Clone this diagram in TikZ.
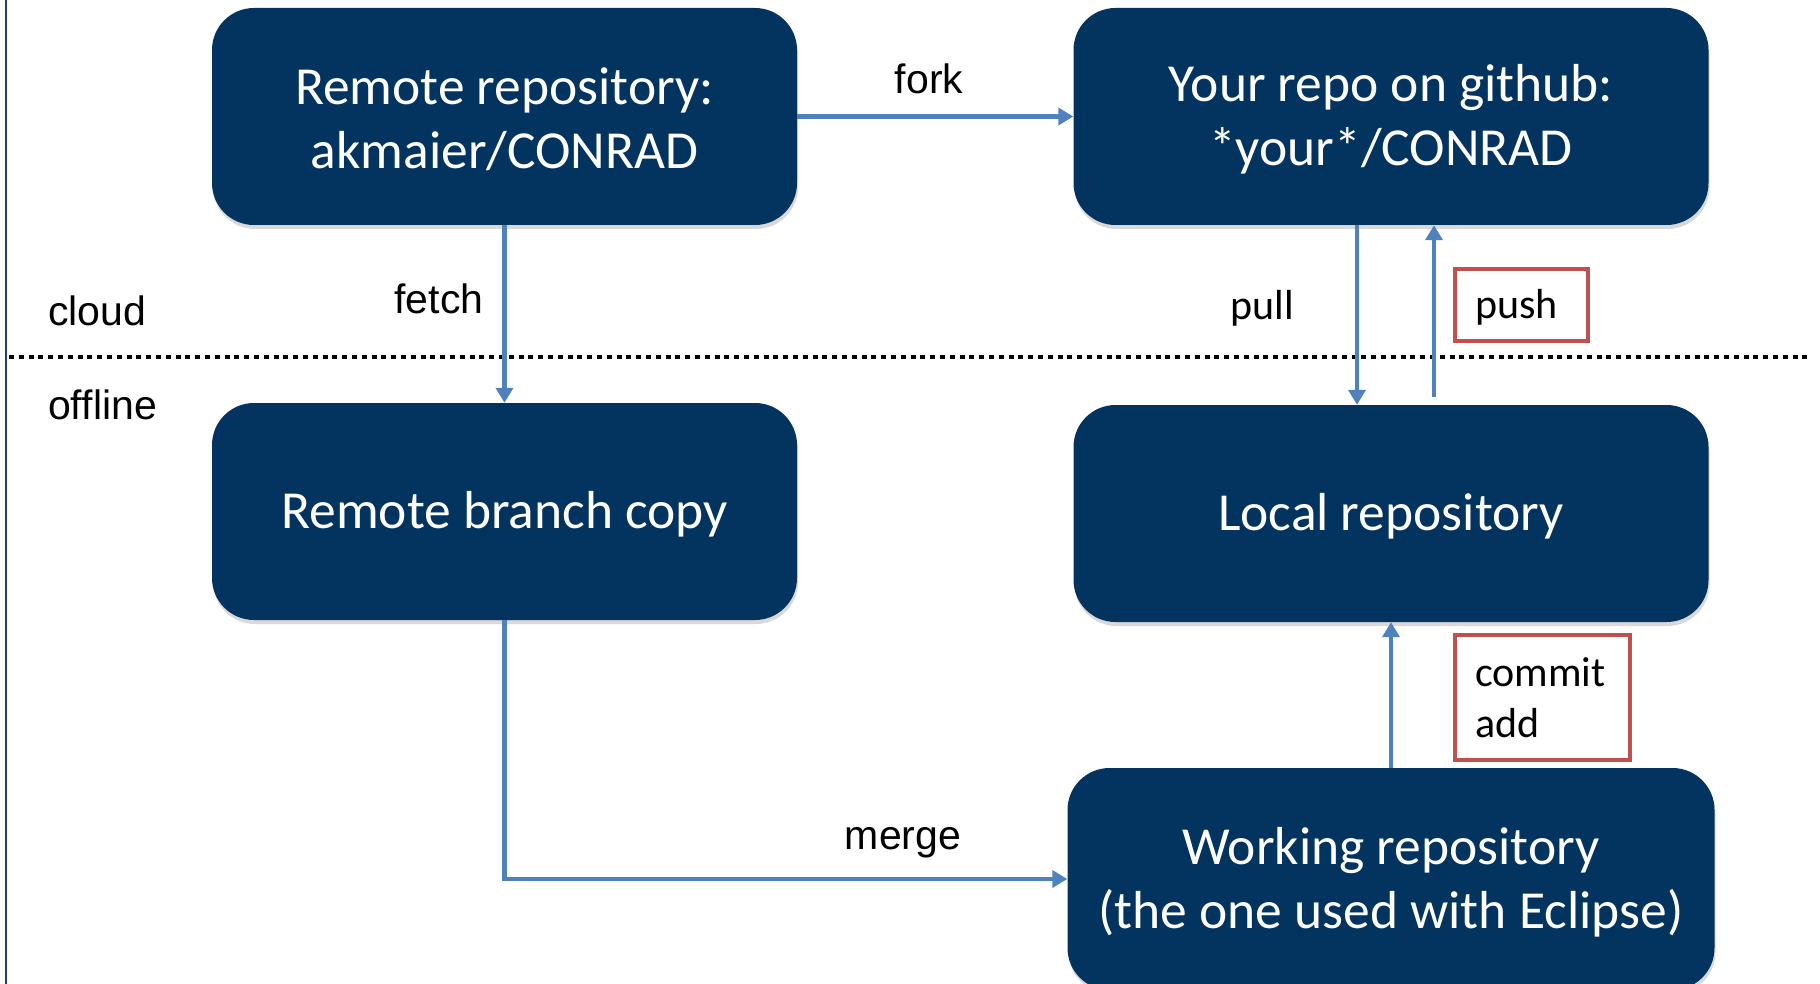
\documentclass[tikz,border=0pt]{standalone}
\usepackage{fontspec}
\setmainfont{Carlito}
\newfontfamily\arialfont{Liberation Sans}
\usetikzlibrary{arrows.meta,shadows}
\definecolor{navy}{HTML}{03335F}
\definecolor{arrowblue}{HTML}{4F81BD}
\definecolor{boxred}{HTML}{C0504D}
\definecolor{borderblue}{HTML}{1F3F6F}
\begin{document}
\begin{tikzpicture}[x=1pt,y=-1pt,
  repo/.style={draw=none, fill=navy, rounded corners=42pt, inner sep=0pt,
    drop shadow={shadow xshift=1pt, shadow yshift=-4pt, opacity=0.3}},
  repotext/.style={text=white, align=center, inner sep=0pt, font=\fontsize{53.5}{64}\selectfont},
  conn/.style={draw=arrowblue, line width=4.5pt, -{Triangle[width=17pt,length=15pt]}},
  lblA/.style={font=\arialfont\fontsize{41}{48}\selectfont, inner sep=0pt},
  lblC/.style={font=\fontsize{42}{51}\selectfont, inner sep=0pt},
  cmdbox/.style={draw=boxred, line width=4pt, fill=white, inner xsep=20pt, inner ysep=0pt,
    align=left, font=\fontsize{42}{51}\selectfont}
]
\useasboundingbox (0,0) rectangle (1820,984);
% left border and cloud/offline separator
\draw[borderblue, line width=2pt] (6,0) -- (6,984);
\draw[black, line width=4.5pt, dash pattern=on 5pt off 4.8pt] (9,357) -- (1810,357);

% repositories
\node[repo, minimum width=585pt, minimum height=217pt] (remote) at (504.5,116.5) {};
\node[repo, minimum width=635pt, minimum height=217pt] (yours) at (1391,116.5) {};
\node[repo, minimum width=585pt, minimum height=217pt] (branch) at (504.5,511.5) {};
\node[repo, minimum width=635pt, minimum height=217pt] (local) at (1391,513.5) {};
\node[repo, minimum width=647pt, minimum height=222pt] (work) at (1391,879) {};

\node[repotext] (remotetxt) at ([yshift=-3pt]remote.center) {Remote repository:\\akmaier/CONRAD};
\node[repotext] (yourstxt) at ([yshift=-3pt]yours.center) {Your repo on github:\\*your*/CONRAD};
\node[repotext] (branchtxt) at ([yshift=-3pt]branch.center) {Remote branch copy};
\node[repotext] (localtxt) at ([yshift=-3pt]local.center) {Local repository};
\node[repotext] (worktxt) at ([yshift=-3pt]work.center) {Working repository\\(the one used with Eclipse)};

% connectors
\draw[conn] (remote.east) -- (yours.west);
\draw[conn] (remote.south) -- (branch.north);
\draw[conn] ([xshift=-34pt]yours.south) -- ([xshift=-34pt]local.north);
\draw[conn] ([xshift=43pt,yshift=8pt]local.north) -- ([xshift=43pt]yours.south);
\draw[conn] (work.north) -- (local.south);
\draw[conn] (branch.south) |- (work.west);

% labels
\node[lblA] (forklbl) at (929,79) {fork};
\node[lblA] (fetchlbl) at (439,299) {fetch};
\node[lblC] (pulllbl) at (1262,308) {pull};
\node[lblA] (mergelbl) at (903,843) {merge};
\node[lblA, anchor=west] (cloudlbl) at (48,311) {cloud};
\node[lblA, anchor=west] (offlbl) at (48,405) {offline};
\node[cmdbox, text width=93pt, minimum height=72pt, text height=33pt, text depth=6pt] (pushbox) at (1521.5,305) {push};
\node[cmdbox, text width=135pt, minimum height=125pt] (commitbox) at (1542.5,697.5) {commit\\add};
\end{tikzpicture}
\end{document}
